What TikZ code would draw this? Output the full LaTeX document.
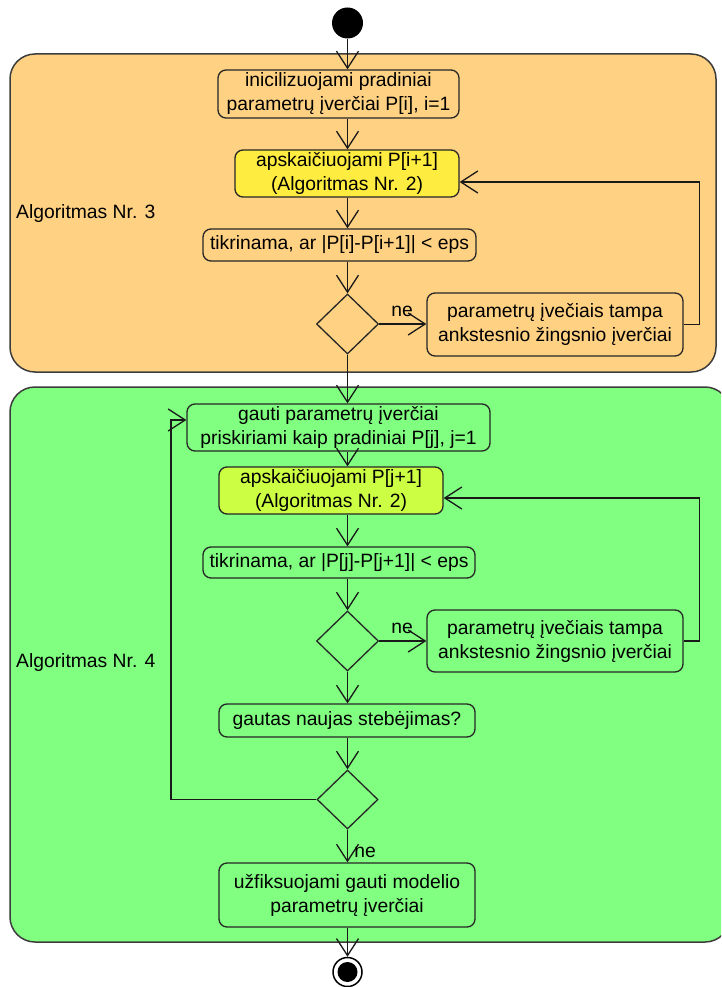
\documentclass[tikz,border=0pt]{standalone}
\usepackage{fontspec}
\setmainfont{Liberation Sans}
\usetikzlibrary{shapes.geometric,arrows.meta,calc}
\definecolor{orangebg}{RGB}{255,209,130}
\definecolor{greenbg}{RGB}{128,255,128}
\definecolor{yellowbox}{RGB}{255,236,64}
\definecolor{limebox}{RGB}{204,255,68}
\definecolor{edgegray}{RGB}{60,60,60}
\tikzset{
  container/.style={draw=edgegray, line width=1.5pt, rounded corners=25pt},
  actbox/.style={draw=black!85, line width=1.3pt, rounded corners=8pt, inner sep=0pt, align=center,
    font=\fontsize{19.3}{24}\selectfont},
  decision/.style={diamond, draw=black!85, line width=1.3pt, inner sep=0pt, minimum width=62pt, minimum height=60pt},
  arr/.style={draw=black!90, line width=1.3pt, -{Straight Barb[length=17pt,width=22pt,line width=1.3pt]}},
  lbl/.style={font=\fontsize{19.3}{24}\selectfont, inner sep=0pt},
}
\begin{document}
\begin{tikzpicture}[x=1pt,y=-1pt]
\clip (0,0) rectangle (721,987);
\fill[white] (0,0) rectangle (721,987);
% containers
\draw[container, fill=orangebg] (10,54) rectangle (716,372);
\draw[container, fill=greenbg] (10,387) rectangle (730,942);
\node[lbl, anchor=west] (alg3) at (16,214) {Algoritmas Nr. 3};
\node[lbl, anchor=west] (alg4) at (16,663) {Algoritmas Nr. 4};
% start
\node[circle, fill=black, minimum size=31pt, inner sep=0pt] (st) at (347.5,23) {};
% orange part
\node[actbox, fill=orangebg, minimum width=241pt, minimum height=48pt] (b1) at (338.5,94) {inicilizuojami pradiniai\\parametrų įverčiai P[i], i=1};
\node[actbox, fill=yellowbox, minimum width=224pt, minimum height=47pt] (b2) at (347,173.5) {apskaičiuojami P[i+1]\\(Algoritmas Nr. 2)};
\node[actbox, fill=orangebg, minimum width=273pt, minimum height=32pt] (b3) at (339.5,245) {tikrinama, ar |P[i]-P[i+1]| < eps};
\node[decision, fill=orangebg] (d1) at (347.5,324) {};
\node[actbox, fill=orangebg, minimum width=256pt, minimum height=63pt] (b4) at (555,324.5) {parametrų įvečiais tampa\\ankstesnio žingsnio įverčiai};
% green part
\node[actbox, fill=greenbg, minimum width=303pt, minimum height=47pt] (b5) at (338.5,427.5) {gauti parametrų įverčiai\\priskiriami kaip pradiniai P[j], j=1};
\node[actbox, fill=limebox, minimum width=224pt, minimum height=47pt] (b6) at (331,490.5) {apskaičiuojami P[j+1]\\(Algoritmas Nr. 2)};
\node[actbox, fill=greenbg, minimum width=272pt, minimum height=31pt] (b7) at (339,562.5) {tikrinama, ar |P[j]-P[j+1]| < eps};
\node[decision, fill=greenbg] (d2) at (347.5,641) {};
\node[actbox, fill=greenbg, minimum width=256pt, minimum height=62pt] (b8) at (555,641) {parametrų įvečiais tampa\\ankstesnio žingsnio įverčiai};
\node[actbox, fill=greenbg, minimum width=256pt, minimum height=33pt] (b9) at (347,720.5) {gautas naujas stebėjimas?};
\node[decision, fill=greenbg, minimum width=61pt, minimum height=59pt] (d3) at (347.5,799.5) {};
\node[actbox, fill=greenbg, minimum width=256pt, minimum height=64pt] (b10) at (347,895) {užfiksuojami gauti modelio\\parametrų įverčiai};
% end
\node[circle, draw=black, line width=1.5pt, fill=white, minimum size=29pt, inner sep=0pt] (en) at (347.5,972) {};
\node[circle, fill=black, minimum size=20pt, inner sep=0pt] (enin) at (en.center) {};
% vertical flow
\draw[arr] (st) -- (b1.north -| st);
\draw[arr] (b1.south -| st) -- (b2.north -| st);
\draw[arr] (b2.south -| st) -- (b3.north -| st);
\draw[arr] (b3.south -| st) -- (d1.north);
\draw[arr] (d1.south) -- (b5.north -| d1);
\draw[arr] (b5.south -| d1) -- (b6.north -| d1);
\draw[arr] (b6.south -| d1) -- (b7.north -| d1);
\draw[arr] (b7.south -| d1) -- (d2.north);
\draw[arr] (d2.south) -- (b9.north -| d2);
\draw[arr] (b9.south -| d2) -- (d3.north);
\draw[arr] (d3.south) -- (b10.north -| d3);
\draw[arr] (b10.south -| d3) -- (en.north);
% branches
\draw[arr] (d1.east) -- (b4.west |- d1.east);
\node[lbl] (ne1) at (402,311) {ne};
\draw[arr] (b4.east) -- ++(16,0) |- ($(b2.east)+(0,8.5)$);
\draw[arr] (d2.east) -- (b8.west |- d2.east);
\node[lbl] (ne2) at (402,628) {ne};
\draw[arr] (b8.east) -- ++(16,0) |- ($(b6.east)+(0,7.5)$);
\draw[arr] (d3.west) -- ++(-145.5,0) |- ($(b5.west)+(0,-7.5)$);
\node[lbl] (ne3) at (365,852) {ne};
\end{tikzpicture}
\end{document}
